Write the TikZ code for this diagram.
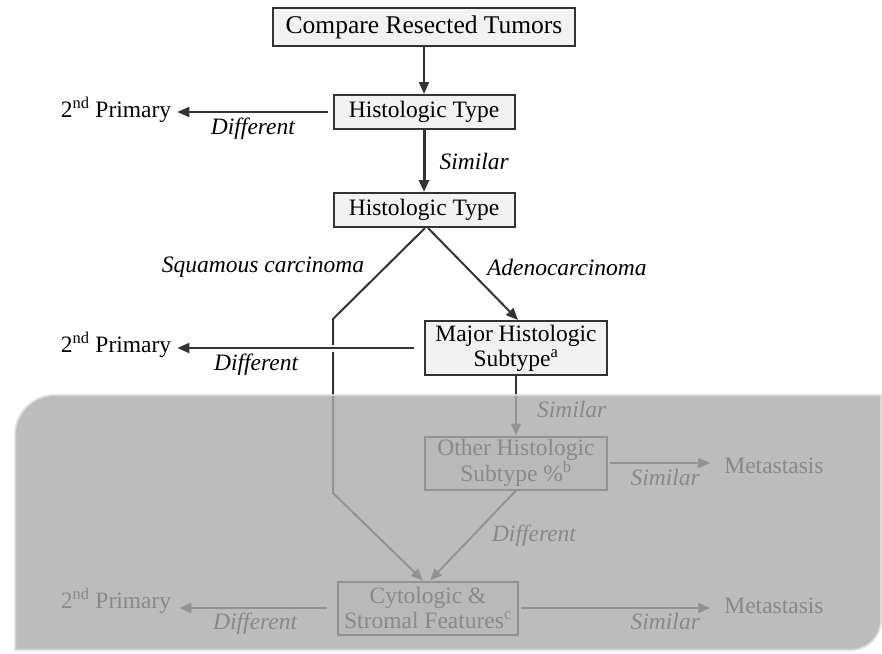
\documentclass[tikz,border=0pt]{standalone}
\usepackage{fontspec}
\setmainfont{Liberation Serif}
\usetikzlibrary{arrows.meta}
\definecolor{boxfill}{HTML}{F2F2F2}
\definecolor{linegray}{HTML}{333333}
\definecolor{shade}{HTML}{ADABAB}
\tikzset{
  txt/.style={font=\fontsize{23.5}{25}\selectfont, inner sep=2pt},
  lbl/.style={font=\fontsize{23.5}{25}\selectfont\itshape, inner sep=2pt},
  box/.style={txt, draw=linegray, fill=boxfill, line width=2pt, align=center, inner sep=0pt},
  arr/.style={-{Triangle[length=12pt,width=10pt]}, draw=linegray, line width=2pt},
  gap/.style={preaction={draw=white, line width=7pt, -}},
}
\begin{document}
\begin{tikzpicture}[x=1pt,y=-1pt]
    \useasboundingbox (0,0) rectangle (882,653);
    % Boxes %
    \node[box, minimum width=302, minimum height=38, font=\fontsize{25.5}{27}\selectfont] (cmp) at (424,27) {Compare Resected Tumors};
    \node[box, minimum width=181, minimum height=34] (type1) at (424,112) {Histologic Type};
    \node[box, minimum width=181, minimum height=34] (type2) at (424,210) {Histologic Type};
    \node[box, minimum width=182, minimum height=54] (major) at (516,348) {Major Histologic\\Subtype\textsuperscript{a}};
    \node[box, minimum width=182, minimum height=53] (other) at (516,463) {Other Histologic\\Subtype \%\textsuperscript{b}};
    \node[box, minimum width=180, minimum height=53] (cyto) at (428,608) {Cytologic \&\\Stromal Features\textsuperscript{c}};
    % Outcomes %
    \node[txt] (prim1) at (116,110) {2\textsuperscript{nd} Primary};
    \node[txt] (prim2) at (116,345) {2\textsuperscript{nd} Primary};
    \node[txt] (prim3) at (116,601) {2\textsuperscript{nd} Primary};
    \node[txt] (meta1) at (774,466) {Metastasis};
    \node[txt] (meta2) at (774,606) {Metastasis};
    \coordinate (sq1) at (333,319);
    \coordinate (sq2) at (333,493);

    % Connectors %
    \draw[arr] (cmp) -- (type1);
    \draw[arr, shorten <=5pt, shorten >=4pt] (type1.west) -- (type1.west -| prim1.east) node[lbl, midway, below=3pt] {Different};
    \draw[arr, line width=3pt] (type1) -- (type2) node[lbl, midway, right=12pt] {Similar};
    \draw[arr] ([xshift=1pt]type2.south) -- node[lbl, left=12pt, yshift=6pt] {Squamous carcinoma} (sq1) -- (sq2) -- ([xshift=-5pt]cyto.north);
    \draw[arr] ([xshift=4pt]type2.south) -- node[lbl, right=11pt, yshift=7pt] {Adenocarcinoma} ([xshift=2pt]major.north);
    \draw[arr, gap, shorten <=10pt, shorten >=4pt] (major.west) -- (major.west -| prim2.east) node[lbl, pos=0.67, below=3pt] {Different};
    \draw[arr] (major) -- (other) node[lbl, midway, right=18pt, yshift=-4pt] {Similar};
    \draw[arr, shorten <=2pt, shorten >=12pt] (other.east) -- (other.east -| meta1.west) node[lbl, midway, below=3pt] {Similar};
    \draw[arr] (other.south) -- node[lbl, right=16pt] {Different} ([xshift=2pt]cyto.north);
    \draw[arr, shorten <=10pt, shorten >=6pt] (cyto.west) -- (cyto.west -| prim3.east) node[lbl, midway, below=2pt] {Different};
    \draw[arr, shorten <=2pt, shorten >=12pt] (cyto.east) -- (cyto.east -| meta2.west) node[lbl, pos=0.72, below=2pt] {Similar};

    % Shaded part %
    \path[fill=shade, draw=white!75!gray, line width=2pt, opacity=0.8]
      (15,650) -- (15,435) arc[start angle=180, end angle=270, radius=40]
      -- (881,395) -- (881,620) arc[start angle=0, end angle=90, radius=30] -- cycle;
\end{tikzpicture}
\end{document}
